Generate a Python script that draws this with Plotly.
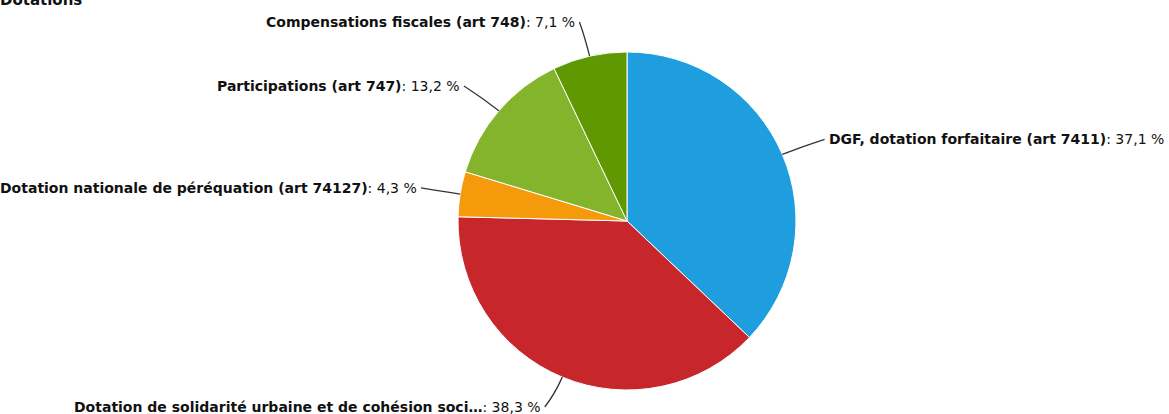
import math
import plotly.graph_objects as go

# ---- data ----
labels = [
    "DGF, dotation forfaitaire (art 7411)",
    "Dotation de solidarité urbaine et de cohésion soci…",
    "Dotation nationale de péréquation (art 74127)",
    "Participations (art 747)",
    "Compensations fiscales (art 748)",
]
values = [37.1, 38.3, 4.3, 13.2, 7.1]
colors = ["#1e9ddf", "#c7262a", "#f59a0a", "#84b32c", "#5f9800"]
title_text = "Dotations"

# ---- layout geometry ----
W, H = 1169, 414
cx, cy, r = 627, 221, 169
dom_x = [(cx - 175) / W, (cx + 175) / W]
dom_y = [1 - (cy + r) / H, 1 - (cy - r) / H]

fig = go.Figure(go.Pie(
    labels=labels, values=values, sort=False, direction="clockwise",
    rotation=0, marker=dict(colors=colors, line=dict(color="white", width=1)),
    textinfo="none", hoverinfo="label+percent", showlegend=False,
    domain=dict(x=dom_x, y=dom_y),
))

def px(x):
    return x / W

def py(y):
    return 1 - y / H

shapes = []
annotations = []
total = sum(values)
cum = 0.0
for lab, v in zip(labels, values):
    mid = (cum + v / 2) / total * 2 * math.pi
    cum += v
    s, c = math.sin(mid), math.cos(mid)
    x0, y0 = cx + r * s, cy - r * c
    xc, yc = cx + (r + 22) * s, cy - (r + 20) * c
    lx, ly = cx + (r + 46) * s, cy - (r + 38) * c
    ly = min(max(ly, 22), 407)
    yc = min(max(yc, 30), 400)
    right = s > 0
    if not right:
        lx = max(lx, 421)
    path = f"M {px(x0)},{py(y0)} Q {px(xc)},{py(yc)} {px(lx)},{py(ly)}"
    shapes.append(dict(type="path", path=path, xref="paper", yref="paper",
                       line=dict(color="#333333", width=1.3)))
    pct = f"{v:.1f}".replace(".", ",")
    annotations.append(dict(
        x=px(lx + (2 if right else -2)), y=py(ly), xref="paper", yref="paper",
        text=f"<b>{lab}</b>: {pct} %", showarrow=False,
        xanchor="left" if right else "right", yanchor="middle",
        font=dict(family="DejaVu Sans", size=14, color="#111111"),
    ))

annotations.append(dict(
    x=0, y=py(0), xref="paper", yref="paper", text=f"<b>{title_text}</b>",
    showarrow=False, xanchor="left", yanchor="middle", xshift=-2,
    font=dict(family="DejaVu Sans", size=15, color="#111111"),
))

fig.update_layout(
    width=W, height=H, margin=dict(l=0, r=0, t=0, b=0),
    paper_bgcolor="white", plot_bgcolor="white",
    shapes=shapes, annotations=annotations,
)

fig.write_html("out.html", config={"displayModeBar": False},
               post_script="document.body.style.margin='0';")
